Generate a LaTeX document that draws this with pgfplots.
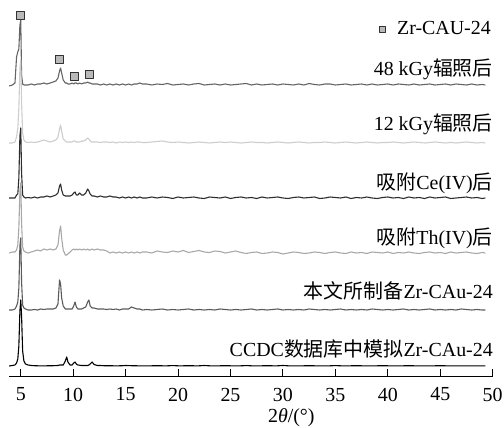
\documentclass[border=0pt]{standalone}
\usepackage{pgfplots}
\usepackage{pgfplotstable}
\pgfplotsset{compat=1.18}
\usepackage{fontspec}
\setmainfont{Liberation Serif}
\newfontfamily\cjk{Noto Sans CJK SC}
\definecolor{cA}{RGB}{100,100,100}
\definecolor{cB}{RGB}{205,205,205}
\definecolor{cC}{RGB}{45,45,45}
\definecolor{cD}{RGB}{168,168,168}
\definecolor{cE}{RGB}{90,90,90}
\definecolor{mfill}{RGB}{185,185,185}
\definecolor{mdraw}{RGB}{50,50,50}
% columns: 2theta, then offsets above each trace's own baseline
\pgfplotstableread{
x A B C D E F
3.90 -1 0 0 0 0 0
4.20 0 0 0 1 0 0.5
4.45 2 1 0 1 1 1
4.60 28 6 3 3 4 3
4.72 33 15 4 8 8 7
4.82 36 35 20 25 22 20
4.92 60 75 62 62 64 55
5.00 65 83 70 70 72 66
5.08 10 40 25 30 28 50
5.18 1 10 3 6 5 15
5.30 0 3 1 2 2 5
5.45 0 1 0 1 1 2
5.70 0 0.5 0.5 0 0 1
6.00 1 1 0 1 0 0.5
6.30 0 0.5 1 2 0.5 0.3
6.60 1 1 0 3 0 0.2
6.90 1 2 1 2 1 0.2
7.20 2 3 1 4 0.5 0.2
7.50 1 2 2 3 1 0.2
7.80 2 1 1 4 1 0.3
8.10 3 2 2 3 1 0.3
8.35 4 3 3 4 2 0.4
8.55 7 6 5 8 6 0.5
8.70 14 14 12 22 30 1
8.80 17 18 14 27 26 1
8.90 12 12 8 15 12 1
9.05 5 4 3 3 4 1
9.25 2 2 2 -2 1 5
9.38 2 1 2 -2 1 9
9.50 1 1 2 -1 1 4
9.70 1 1 2 1 1 1
9.90 2 1 3 3 1 1
10.05 1 2 5 4 4 3
10.18 2 2 6 3 8 4
10.30 2 1 3 4 3 2
10.45 1 1 3 3 1 1
10.60 2 1 5 4 1 0.8
10.80 1 2 3 3 1 0.5
11.00 2 2 3 4 2 0.5
11.20 2 3 5 3 3 0.5
11.38 3 5 9 4 8 0.5
11.50 2 4 7 3 10 1
11.62 2 2 4 3 4 2
11.80 1 1 2 4 2 4
12.00 1 1 2 3 2 1.5
12.30 1 1 1 4 1 0.5
12.60 0 0.5 2 3 1 0.5
12.90 1 1 1 3 1 0.3
13.20 0 1 1 2 0.5 0.3
13.50 1 0.5 2 0 1 0.3
13.80 0 1 1 1 0.5 0.2
14.10 1 0 1 0 1 0.2
14.40 0 1 0 1 0 0.2
14.70 1 0.5 1 0 1 0.3
15.00 0 1 0 1 1 0.5
15.30 1 0.5 1 0 1 0.4
15.55 0 1 0 1 3 0.3
15.80 1 0.5 1 0 2 0.3
16.10 1 1 0 1 1 0.2
16.35 2 1 1 0 1 0.2
16.60 1 0.5 0 1 0 0.2
17.0 1 0.5 0 1 0.5 0.2
17.5 0 1 1 0 0 0.2
18.0 1 1.5 0 2 0.5 0.3
18.5 0.5 2 1 1 1 0.2
19.0 1.5 1 0.5 0.5 0 0.2
19.5 0 0.5 -0.5 2 0.5 0.4
20.0 0.5 1 1 1 0 0.2
20.5 1 0.5 0 2.5 0.5 0.2
21.0 0 0 0.5 0.5 1 0.3
21.5 1 0.5 1 1.5 0 0.2
22.0 1.5 1 0 2.5 0.5 0.2
22.5 0 0.5 -0.5 1 0 0.5
23.0 0.5 0 1 0.5 0.5 0.2
23.5 1 0.5 0.5 2 0 0.2
24.0 0 1 0 1.5 1 0.2
24.5 1 0.5 1 0 0.5 0.3
25.0 0 1 -0.5 1 0 0.2
25.5 0.5 0.5 0.5 2 0.5 0.2
26.0 1 0 1 0.5 0 0.2
26.5 1.5 0.5 0 -0.5 0.5 0.4
27.0 0 1 0.5 0.5 1 0.2
27.5 1 0.5 -0.5 1 0 0.2
28.0 0 0.5 1 -0.5 0.5 0.2
28.5 0.5 0 0 0 0 0.3
29.0 1 0.5 0.5 1 0.5 0.2
29.5 0 1 1 0.5 1 0.2
30.0 1 0.5 0 -1 0 0.5
30.5 0.5 0 -0.5 0 0.5 0.2
31.0 0 0.5 0.5 1 0 0.2
31.5 1 1 1 0.5 0.5 0.2
32.0 0 0.5 0 -0.5 0 0.2
32.5 1.5 0 0.5 0 1 0.3
33.0 0.5 0.5 1 1 0.5 0.2
33.5 0 0.5 -0.5 0.5 0 0.2
34.0 1 1 0 -0.5 0.5 0.2
34.5 1 0.5 1 0.5 0 0.2
35.0 0 0 0.5 1 0.5 0.4
35.5 0.5 0.5 0 0 1 0.2
36.0 1 1 1 -0.5 0 0.2
36.5 0 0.5 -0.5 1 0.5 0.2
37.0 0.5 0 0.5 0 0 0.3
37.5 1 0.5 0 0.5 0.5 0.2
38.0 0 1 1 -0.5 0 0.2
38.5 1 0.5 0 1 1 0.2
39.0 0 0 -0.5 0.5 0.5 0.2
39.5 0.5 0.5 0.5 0 0 0.3
40.0 1 0.5 1 1 0.5 0.2
40.5 0 1 0 -0.5 0 0.2
41.0 1 0.5 0.5 0.5 0.5 0.2
41.5 0.5 0 -0.5 0 1 0.2
42.0 0 0.5 1 1 0 0.3
42.5 1 1 0 0 0.5 0.2
43.0 0 0.5 0.5 -0.5 0 0.2
43.5 0.5 0 -0.5 0.5 0.5 0.2
44.0 1 0.5 1 1 1 0.2
44.5 0 1 0 0 0 0.2
45.0 0.5 0.5 0.5 0.5 0.5 0.3
45.5 1 0 1 -0.5 0 0.2
46.0 0 0.5 -0.5 1 0.5 0.2
46.5 1 0 0 0 0 0.2
47.0 0.5 0.5 0.5 0.5 1 0.2
47.5 0 1 1 1 0.5 0.2
48.0 1 0.5 0 0 0 0.2
48.5 0 0 0.5 -0.5 0.5 0.2
49.0 0.5 0.5 -0.5 0.5 0 0.2
49.3 0 0 0 0 0 0.2
}\xrd

\begin{document}
\fontsize{20}{24}\selectfont
\begin{tikzpicture}
\path[use as bounding box] (-9bp,-52bp) rectangle (495bp,376bp);
\begin{axis}[
  at={(0,0)}, anchor=south west,
  scale only axis, width=484bp, height=366bp,
  xmin=3.88, xmax=50.03, ymin=0, ymax=366,
  clip=false,
  axis x line*=bottom, axis y line=none, ytick=\empty,
  xtick={5,10,...,50},
  tick align=inside, major tick length=7bp,
  x axis line style={line width=1bp, black},
  xtick style={line width=0.9bp, black},
  /pgf/number format/assume math mode=true,
  xticklabel style={font=\fontsize{20}{24}\selectfont, yshift=-5bp},
  legend style={draw=none, fill=none, at={(rel axis cs:1,0.947)}, anchor=east,
    inner sep=0pt, font=\fontsize{20}{24}\selectfont},
  legend image code/.code={%
    \draw[#1, mark size=3bp] plot coordinates {(0cm,0cm)};
    \path (0.45cm,0cm);},
  every axis plot/.append style={line join=round},
]
\addplot[cA, line width=1.1bp, forget plot] table[x=x, y expr=\thisrow{A}+291] {\xrd};
\addplot[cB, line width=1.1bp, forget plot] table[x=x, y expr=\thisrow{B}+233] {\xrd};
\addplot[cC, line width=1.1bp, forget plot] table[x=x, y expr=\thisrow{C}+178] {\xrd};
\addplot[cD, line width=1.1bp, forget plot] table[x=x, y expr=\thisrow{D}+123] {\xrd};
\addplot[cE, line width=1.1bp, forget plot] table[x=x, y expr=\thisrow{E}+66] {\xrd};
\addplot[black, line width=1.1bp, forget plot] table[x=x, y expr=\thisrow{F}+10] {\xrd};
\addplot[only marks, mark=square*, mark size=4bp,
  mark options={fill=mfill, draw=mdraw, line width=1bp}]
  coordinates {(4.93,360) (8.68,316) (10.08,299) (11.54,301)};
\addlegendentry{Zr-CAU-24}
\node[anchor=base east, inner sep=0pt] at (axis cs:50.03,300) {48 kGy{\cjk 辐照后}};
\node[anchor=base east, inner sep=0pt] at (axis cs:50.03,245) {12 kGy{\cjk 辐照后}};
\node[anchor=base east, inner sep=0pt] at (axis cs:50.03,186) {{\cjk 吸附}Ce(IV){\cjk 后}};
\node[anchor=base east, inner sep=0pt] at (axis cs:50.03,131) {{\cjk 吸附}Th(IV){\cjk 后}};
\node[anchor=base east, inner sep=0pt] at (axis cs:50.03,78) {{\cjk 本文所制备}Zr-CAu-24};
\node[anchor=base east, inner sep=0pt] at (axis cs:50.03,20) {CCDC{\cjk 数据库中模拟}Zr-CAu-24};
\node[anchor=center, inner sep=0pt] at (axis cs:30.8,-42) {2\textit{θ}/(°)};
\end{axis}
\end{tikzpicture}
\end{document}
